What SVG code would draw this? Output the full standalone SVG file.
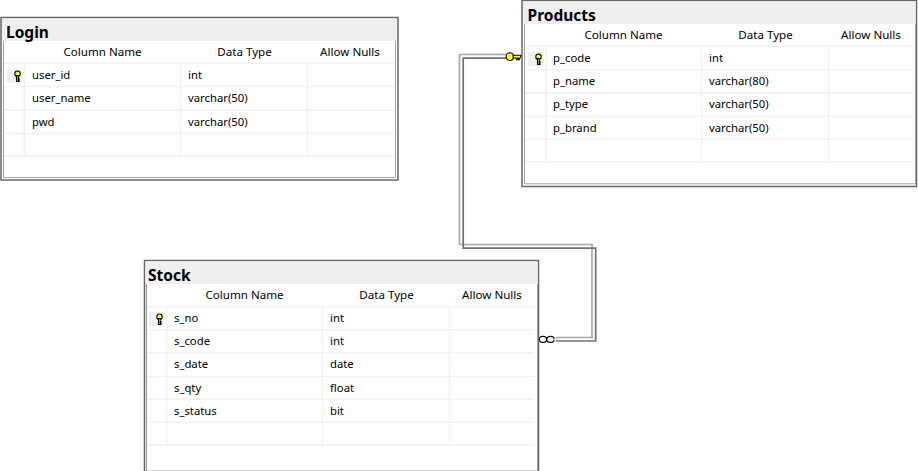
<svg xmlns="http://www.w3.org/2000/svg" xmlns:xlink="http://www.w3.org/1999/xlink" width="918" height="471" viewBox="0 0 918 471">
<style>
text{font-family:"Noto Sans","Open Sans","Liberation Sans",sans-serif;font-size:11.3px;fill:#000}
.t{font-weight:700;font-size:15.5px}
.c{text-anchor:middle;font-size:11.6px}
.frame{fill:#fff;stroke:#666;stroke-width:1.5}
.bar{fill:#efefef}
.in{fill:none;stroke:#a0a0a0;stroke-width:1}
.g{stroke:#f0f0f0;stroke-width:1.3;fill:none}
.keybg{fill:#efefef}
.k{fill:#ffff30;stroke:#000;stroke-width:1.1}
.w{fill:none;stroke-linejoin:miter}
</style>
<defs>
<g id="pk">
<rect class="keybg" x="-10.500" y="-7" width="15" height="14"/>
<circle class="k" cx="0" cy="-2.300" r="2.700"/>
<path class="k" d="M-1-.5V5.500H1.500V4.500H.7V3.500H1.500V2.500H.7V-.5Z"/>
</g>
</defs>
<g id="connectors">
<path class="w" stroke="#a8a8a8" stroke-width="1.7" d="M508 54.500H459.500V244.500H592V337.500H556"/>
<path class="w" stroke="#707070" stroke-width="1.7" d="M508 58.200H463.200V248.200H595.700V341H556"/>
<circle class="k" cx="510" cy="56.600" r="3.900"/>
<path class="k" d="M513 55.200H521.500L520 58L519 59.800L518 58L517 59.800L516 58H513Z"/>
<g fill="#fff" stroke="#000" stroke-width="1.100"><ellipse cx="543" cy="339.400" rx="3.700" ry="3"/><ellipse cx="550.500" cy="339.400" rx="3.700" ry="3"/></g>
<circle cx="555.500" cy="339.400" r="1.500" fill="#fff" stroke="#999" stroke-width=".8"/>
</g>
<g id="login">
<rect class="frame" x="1" y="17.500" width="397" height="162.500"/>
<rect class="bar" x="2" y="18.500" width="395" height="22.500"/>
<path class="in" d="M3.500 41V177.500H395.500V41"/>
<path class="g" d="M4 63.300H394M4 86.700H394M4 110H394M4 133.300H394M4 156H394M24.300 63V155M180.500 63V155M307.500 63V155"/>
<use xlink:href="#pk" href="#pk" x="17.500" y="76"/>
<text class="t" x="6" y="37.500">Login</text>
<text class="c" x="102.500" y="56">Column Name</text><text class="c" x="244.500" y="56">Data Type</text><text class="c" x="350" y="56">Allow Nulls</text>
<text x="32" y="79">user_id</text><text x="188" y="79">int</text>
<text x="32" y="102">user_name</text><text x="188" y="102">varchar(50)</text>
<text x="32" y="126">pwd</text><text x="188" y="126">varchar(50)</text>
</g>
<g id="products">
<rect class="frame" x="522" y="0.500" width="394.500" height="186"/>
<rect class="bar" x="523" y="1.500" width="392.500" height="22.500"/>
<path class="in" d="M524.500 24V183.800H915.500V24"/>
<path class="g" d="M525 46.300H912M525 69.700H912M525 93H912M525 116.300H912M525 139.300H912M525 162H912M545.800 46V161M701.500 46V161M828.500 46V161"/>
<use xlink:href="#pk" href="#pk" x="538.500" y="59"/>
<text class="t" x="527.500" y="20.500">Products</text>
<text class="c" x="623.500" y="39">Column Name</text><text class="c" x="765.500" y="39">Data Type</text><text class="c" x="871" y="39">Allow Nulls</text>
<text x="553" y="62">p_code</text><text x="709" y="62">int</text>
<text x="553" y="85">p_name</text><text x="709" y="85">varchar(80)</text>
<text x="553" y="108">p_type</text><text x="709" y="108">varchar(50)</text>
<text x="553" y="132">p_brand</text><text x="709" y="132">varchar(50)</text>
</g>
<g id="stock">
<rect class="frame" x="144.500" y="260.500" width="394" height="215"/>
<rect class="bar" x="145.500" y="261.500" width="392" height="22.500"/>
<path class="in" d="M146.500 284V471H537.500V284"/>
<path class="g" d="M147 306.700H534M147 329.700H534M147 352.700H534M147 376.300H534M147 399.300H534M147 422.300H534M147 445H534M166.700 306V444M322.500 306V444M449.500 306V444"/>
<use xlink:href="#pk" href="#pk" x="159.500" y="319"/>
<text class="t" x="148" y="281">Stock</text>
<text class="c" x="244.500" y="299">Column Name</text><text class="c" x="386.500" y="299">Data Type</text><text class="c" x="492" y="299">Allow Nulls</text>
<text x="174" y="322">s_no</text><text x="330" y="322">int</text>
<text x="174" y="345">s_code</text><text x="330" y="345">int</text>
<text x="174" y="368">s_date</text><text x="330" y="368">date</text>
<text x="174" y="392">s_qty</text><text x="330" y="392">float</text>
<text x="174" y="415">s_status</text><text x="330" y="415">bit</text>
</g>
</svg>
